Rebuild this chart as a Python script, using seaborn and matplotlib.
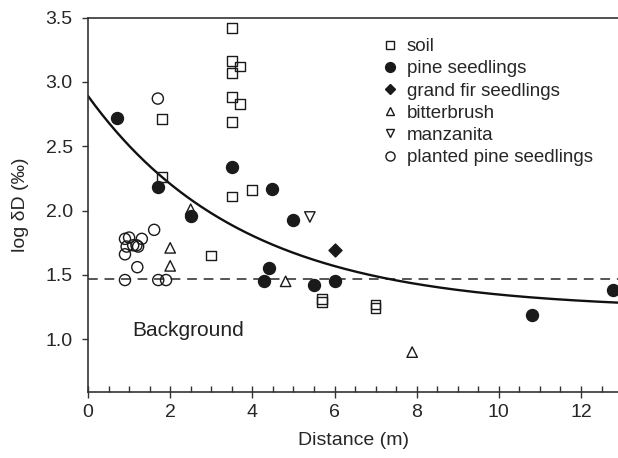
import numpy as np
import pandas as pd
import seaborn as sns
import matplotlib.pyplot as plt
from matplotlib.lines import Line2D
from matplotlib.ticker import MultipleLocator

# Values
soil_x = [3.50, 3.50, 3.70, 3.50, 3.50, 3.70, 3.50, 1.80, 1.80, 3.50, 4.00, 3.00, 5.70, 5.70, 7.00, 7.00]
soil_y = [3.42, 3.16, 3.12, 3.07, 2.88, 2.83, 2.69, 2.71, 2.26, 2.11, 2.16, 1.65, 1.315, 1.29, 1.27, 1.24]

pine_x = [0.70, 1.70, 2.50, 3.50, 4.49, 5.00, 4.41, 4.29, 5.50, 6.01, 10.80, 12.77]
pine_y = [2.72, 2.18, 1.96, 2.34, 2.17, 1.93, 1.55, 1.45, 1.42, 1.45, 1.19, 1.38]

fir_x = [6.01]
fir_y = [1.69]

bitter_x = [2.50, 2.00, 2.00, 4.81, 7.89]
bitter_y = [2.01, 1.71, 1.57, 1.45, 0.90]

manz_x = [5.40]
manz_y = [1.95]

planted_x = [0.90, 1.00, 1.31, 1.61, 0.94, 1.10, 1.18, 1.22, 0.90, 1.20, 0.90, 1.71, 1.90, 1.70]
planted_y = [1.78, 1.79, 1.78, 1.85, 1.72, 1.73, 1.73, 1.72, 1.66, 1.56, 1.46, 1.46, 1.46, 2.87]

background = 1.47
# fitted decay curve y = a + b*exp(-c*x), parameters
fit_a, fit_b, fit_c = 1.23, 1.66, 0.265

groups = [
    ("soil", soil_x, soil_y, "s", "none", 7.0),
    ("pine seedlings", pine_x, pine_y, "o", "#1a1a1a", 8.6),
    ("grand fir seedlings", fir_x, fir_y, "D", "#1a1a1a", 6.6),
    ("bitterbrush", bitter_x, bitter_y, "^", "none", 7.5),
    ("manzanita", manz_x, manz_y, "v", "none", 7.5),
    ("planted pine seedlings", planted_x, planted_y, "o", "none", 8.0),
]

sns.set_style("ticks")
plt.rcParams["font.family"] = ["Liberation Sans", "DejaVu Sans"]

fig = plt.figure(figsize=(6.18, 4.58), dpi=100)
ax = fig.add_axes([88 / 618, 1 - 392 / 458, 530 / 618, (392 - 17.5) / 458])

# curve and background line
xs = np.linspace(0, 12.9, 300)
ax.plot(xs, fit_a + fit_b * np.exp(-fit_c * xs), color="#111111", lw=1.7, zorder=2)
ax.axhline(background, color="#555555", lw=1.4, ls=(0, (5, 3.5)), zorder=1)

handles = []
for name, gx, gy, mk, fc, ms in groups:
    df = pd.DataFrame({"x": gx, "y": gy})
    sns.scatterplot(data=df, x="x", y="y", ax=ax, marker=mk, s=ms ** 2,
                    facecolor=fc, edgecolor="#1a1a1a", linewidth=1.0, zorder=3)
    handles.append(Line2D([], [], ls="none", marker=mk, markersize=ms * 0.82,
                          markerfacecolor=fc, markeredgecolor="#1a1a1a",
                          markeredgewidth=1.0, label=name))

ax.text(1.08, 1.07, "Background", fontsize=15, color="#222222", va="center", ha="left")

ax.set_xlim(0, 12.9)
ax.set_ylim(0.59, 3.5)
ax.set_xticks(range(0, 13, 2))
ax.xaxis.set_minor_locator(MultipleLocator(0.5))
ax.set_yticks([1.0, 1.5, 2.0, 2.5, 3.0, 3.5])
ax.set_yticklabels(["1.0", "1.5", "2.0", "2.5", "3.0", "3.5"])
ax.tick_params(axis="x", which="major", direction="inout", length=9, width=1.0,
               labelsize=14, pad=4, color="#333333")
ax.tick_params(axis="x", which="minor", direction="in", length=4.5, width=1.0, color="#333333")
ax.tick_params(axis="y", which="major", direction="out", length=4, width=1.0,
               labelsize=14, pad=7, color="#333333")

ax.set_xlabel("Distance (m)", fontsize=14, labelpad=8)
ax.set_ylabel("log δD (‰)", fontsize=14, labelpad=12)

for side in ["left", "bottom", "top"]:
    ax.spines[side].set_color("#333333")
    ax.spines[side].set_linewidth(1.2)
ax.spines["right"].set_visible(False)

ax.legend(handles=handles, loc="upper left", bbox_to_anchor=(0.555, 0.945),
          frameon=False, fontsize=13.5, handlelength=0.8, handletextpad=0.5,
          labelspacing=0.27, borderpad=0, borderaxespad=0)

fig.savefig("out.png", dpi=100)
